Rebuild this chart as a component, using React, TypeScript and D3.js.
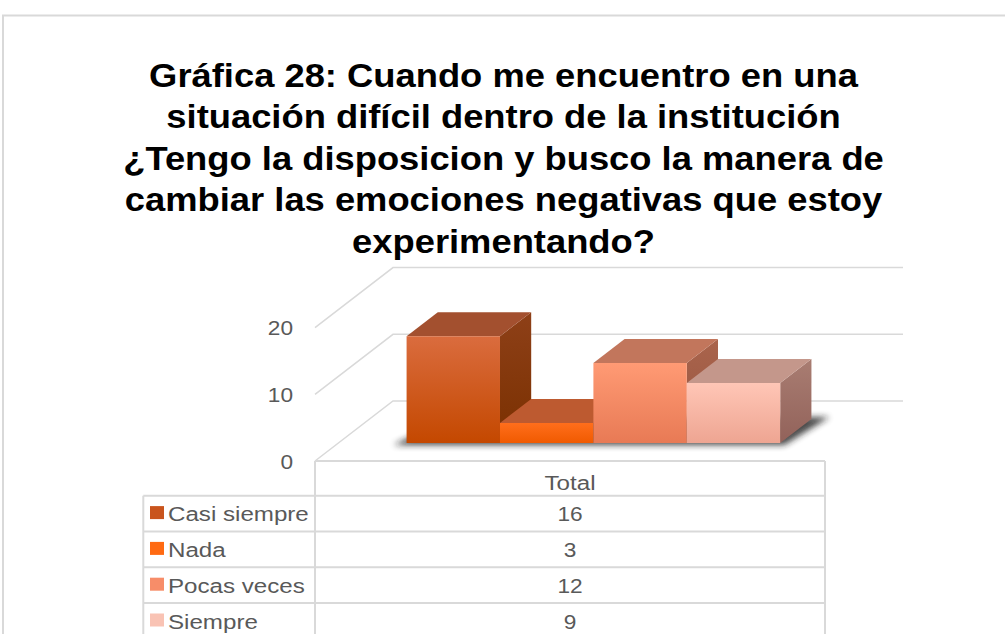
import * as d3 from "d3";

// chart data
const categories = ["Total"];
const series = ["Casi siempre", "Nada", "Pocas veces", "Siempre"];
const values = [16, 3, 12, 9];
const yTicks = [0, 10, 20];
const titleLines = [
  "Gráfica 28: Cuando me encuentro en una",
  "situación difícil dentro de la institución",
  "¿Tengo la disposicion y busco la manera de",
  "cambiar las emociones negativas que estoy",
  "experimentando?",
];

// per-series face colours
const frontTop = ["#da6c3e", "#ff6e1c", "#ff9a74", "#ffc6b6"];
const frontBottom = ["#c44800", "#f05a00", "#e87a55", "#eea592"];
const topFace = ["#a3502f", "#bd5a30", "#c2765c", "#c4978b"];
const sideTop = ["#8e4018", "#8e4018", "#aa644c", "#a97d72"];
const sideBottom = ["#7a3000", "#7a3000", "#965440", "#92625a"];
const keyColor = ["#c9541c", "#ff6a12", "#f78d69", "#f9c3b4"];

const W = 1005;
const H = 634;
const FONT = "'Liberation Sans', Arial, sans-serif";
const GRID = "#d9d9d9";
const TXT = "#595959";

// 3d projection: depth vector of the whole floor
const DX = 78;
const DY = -60;
const Z0 = 0.3;
const Z1 = 0.7;

const x = d3.scaleBand().domain(categories).range([315, 825]);
const y = d3.scaleLinear().domain([0, 20]).range([461, 327.6]);
const xs = d3
  .scaleBand()
  .domain(series)
  .range([x("Total")!, x("Total")! + x.bandwidth()])
  .paddingInner(0)
  .paddingOuter(0.73);

const proj = (px: number, v: number, z: number): [number, number] => [px + z * DX, y(v) + z * DY];
const pts = (a: [number, number][]) => a.map((p) => p.join(",")).join(" ");

// data table rows
const headerTop = y(0);
const rowTop = 495.7;
const rowH = 35.8;
const rows = d3.scaleBand().domain(series).range([rowTop, rowTop + rowH * series.length]);
const tableLeft = 143.3;

// text is a bit wider in the picture than the font gives, so stretch it
function STxt({ x: tx, y: ty, size, anchor, fill, weight, sx = 1.12, children }: any) {
  return (
    <g transform={`translate(${tx},${ty}) scale(${sx},1)`}>
      <text
        x={0}
        y={0}
        fontSize={size}
        textAnchor={anchor}
        fill={fill}
        fontWeight={weight || "normal"}
        fontFamily={FONT}
      >
        {children}
      </text>
    </g>
  );
}

export default function App() {
  const x0 = x("Total")!;
  const x1 = x0 + x.bandwidth();

  const first = xs(series[0])!;
  const last = xs(series[series.length - 1])! + xs.bandwidth();
  const sfl = proj(first, 0, Z0);
  const sfr = proj(last, 0, Z0);
  const sbr = proj(last, 0, Z1);
  const sbl = proj(first, 0, Z1);
  const shadow: [number, number][] = [
    [sfl[0] - 13, sfl[1] + 2],
    [sfr[0] + 4, sfr[1] + 2],
    [sbr[0] + 18, sbr[1] - 2],
    [sbl[0] + 10, sbl[1]],
  ];

  return (
    <svg width={W} height={H} style={{ position: "absolute", left: 0, top: 0 }}>
      <defs>
        {series.map((s, i) => (
          <g key={s}>
            <linearGradient id={`f${i}`} x1="0" y1="0" x2="0" y2="1">
              <stop offset="0" stopColor={frontTop[i]} />
              <stop offset="1" stopColor={frontBottom[i]} />
            </linearGradient>
            <linearGradient id={`s${i}`} x1="0" y1="0" x2="0" y2="1">
              <stop offset="0" stopColor={sideTop[i]} />
              <stop offset="1" stopColor={sideBottom[i]} />
            </linearGradient>
          </g>
        ))}
        <filter id="blur" x="-20%" y="-50%" width="140%" height="200%">
          <feGaussianBlur stdDeviation="3" />
        </filter>
      </defs>

      <rect x={3} y={15.5} width={1010} height={650} fill="#fff" stroke={GRID} strokeWidth={2} />

      {titleLines.map((t, i) => (
        <STxt key={i} x={503.5} y={86.7 + i * 41.5} size={32.6} anchor="middle" fill="#000" weight="bold" sx={1.115}>
          {t}
        </STxt>
      ))}

      {/* walls */}
      {yTicks.map((t) => {
        const a = proj(x0, t, 0);
        const b = proj(x0, t, 1);
        const c = proj(x1, t, 1);
        return (
          <polyline key={t} points={pts([a, b, c])} fill="none" stroke={GRID} strokeWidth={1.5} />
        );
      })}

      <polygon points={pts(shadow)} fill="#1a1a1a" opacity={0.8} filter="url(#blur)" />

      {/* bars */}
      {series.map((s, i) => {
        const bx0 = xs(s)!;
        const bx1 = bx0 + xs.bandwidth();
        const v = values[i];
        const front = [proj(bx0, 0, Z0), proj(bx1, 0, Z0), proj(bx1, v, Z0), proj(bx0, v, Z0)];
        const top = [proj(bx0, v, Z0), proj(bx1, v, Z0), proj(bx1, v, Z1), proj(bx0, v, Z1)];
        const side = [proj(bx1, 0, Z0), proj(bx1, 0, Z1), proj(bx1, v, Z1), proj(bx1, v, Z0)];
        return (
          <g key={s}>
            <polygon points={pts(side)} fill={`url(#s${i})`} />
            <polygon points={pts(top)} fill={topFace[i]} />
            <polygon points={pts(front)} fill={`url(#f${i})`} />
          </g>
        );
      })}

      {/* value axis */}
      {yTicks.map((t) => (
        <STxt key={t} x={293} y={y(t) + 7.5} size={21} anchor="end" fill={TXT} sx={1.08}>
          {t}
        </STxt>
      ))}

      {/* data table */}
      <g fill="none" stroke={GRID} strokeWidth={2}>
        <line x1={x0} x2={x1} y1={headerTop} y2={headerTop} />
        <line x1={x0} x2={x0} y1={headerTop} y2={H + 10} />
        <line x1={x1} x2={x1} y1={headerTop} y2={H + 10} />
        <line x1={tableLeft} x2={tableLeft} y1={rowTop} y2={H + 10} />
        {series.map((s) => (
          <line key={s} x1={tableLeft} x2={x1} y1={rows(s)!} y2={rows(s)!} />
        ))}
        <line x1={tableLeft} x2={x1} y1={rowTop + rowH * series.length} y2={rowTop + rowH * series.length} />
      </g>
      <STxt x={(x0 + x1) / 2} y={490} size={21} anchor="middle" fill={TXT} sx={1.15}>
        {categories[0]}
      </STxt>
      {series.map((s, i) => {
        const cy = rows(s)! + rowH / 2;
        return (
          <g key={s}>
            <rect x={150} y={cy - 7.5} width={14} height={13} fill={keyColor[i]} />
            <STxt x={168} y={cy + 7.5} size={21} anchor="start" fill={TXT} sx={1.15}>
              {s}
            </STxt>
            <STxt x={(x0 + x1) / 2} y={cy + 7.5} size={21} anchor="middle" fill={TXT} sx={1.08}>
              {values[i]}
            </STxt>
          </g>
        );
      })}
    </svg>
  );
}
